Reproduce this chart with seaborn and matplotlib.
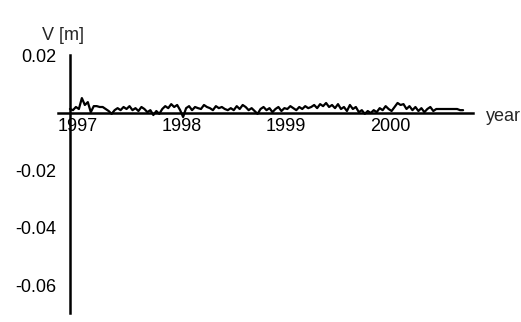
import matplotlib
matplotlib.use("Agg")
import matplotlib.pyplot as plt
import matplotlib.transforms as mtransforms
import numpy as np
import pandas as pd
import seaborn as sns

v_mm = [
    1.4, 1.0, 2.1, 1.4, 5.2, 2.8, 3.8, 0.3, 2.4, 2.4, 2.1, 2.1, 1.4, 0.7, -0.3, 1.0,
    1.7, 1.0, 2.1, 1.4, 2.4, 1.0, 1.7, 0.7, 2.1, 1.4, 0.3, 1.0, -0.7, 0.7, -0.3, 1.4,
    2.4, 1.7, 3.1, 2.1, 2.8, 1.0, -1.4, 1.7, 2.4, 1.0, 2.1, 1.7, 1.4, 2.8, 2.1, 1.7,
    1.0, 2.4, 1.7, 2.1, 1.4, 1.0, 1.7, 1.0, 2.4, 1.4, 2.8, 2.1, 1.0, 1.7, 0.7, -0.3,
    1.4, 2.1, 1.0, 1.7, 0.3, 1.4, 2.1, 0.7, 1.7, 1.4, 2.4, 1.7, 1.0, 2.1, 1.4, 2.4,
    1.7, 2.1, 2.8, 1.7, 3.1, 2.4, 3.5, 2.1, 2.8, 1.7, 3.1, 1.4, 2.1, 0.7, 2.8, 1.4,
    2.1, 0.3, 1.0, -0.3, 0.7, 0.0, 1.0, 0.3, 1.7, 1.0, 2.4, 1.4, 0.7, 2.1, 3.5, 2.8,
    3.1, 1.4, 2.4, 1.0, 2.1, 0.7, 1.7, 0.3, 1.4, 2.1, 0.7, 1.4, 1.4, 1.4, 1.4, 1.4,
    1.4, 1.4, 1.4, 1.0, 1.0,
]
t_start = 1997.0
t_end = 2000.78
year_ticks = [1997, 1998, 1999, 2000]
v_ticks = [0.02, -0.02, -0.04, -0.06]
v_tick_labels = ["0.02", "-0.02", "-0.04", "-0.06"]

df = pd.DataFrame({
    "t": np.linspace(t_start, t_end, len(v_mm)),
    "v": np.array(v_mm) / 1000.0,
})

sns.set_style("white")
plt.rcParams["font.family"] = ["Liberation Sans", "DejaVu Sans"]

fig = plt.figure(figsize=(5.21, 3.22), dpi=100)
ax = fig.add_axes([0.1113, 0.028, 0.7965, 0.8012])
sns.lineplot(data=df, x="t", y="v", ax=ax, color="black", linewidth=1.6)

ax.set_xlim(1996.885, 2000.875)
ax.set_ylim(-0.0696, 0.0202)
for side in ("top", "right"):
    ax.spines[side].set_visible(False)
ax.spines["left"].set_position(("data", 1997))
ax.spines["bottom"].set_position(("data", 0))
for side in ("left", "bottom"):
    ax.spines[side].set_linewidth(1.8)
    ax.spines[side].set_color("black")

ax.set_xticks(year_ticks)
ax.set_xticklabels([str(y) for y in year_ticks], fontsize=13)
ax.set_yticks(v_ticks)
ax.set_yticklabels(v_tick_labels, fontsize=13)
ax.tick_params(axis="x", length=3, width=1.2, direction="inout", pad=2, colors="black")
ax.tick_params(axis="y", length=3, width=1.2, direction="in", pad=10, colors="black")
shift = mtransforms.ScaledTranslation(8 / 100, 0, fig.dpi_scale_trans)
for lbl in ax.get_xticklabels():
    lbl.set_transform(lbl.get_transform() + shift)
ax.set_xlabel("")
ax.set_ylabel("")

fig.text(0.081, 0.891, "V [m]", fontsize=13, ha="left", va="center")
fig.text(0.933, 0.637, "year", fontsize=13, ha="left", va="center")

fig.savefig("out.png", dpi=100)
plt.close(fig)
